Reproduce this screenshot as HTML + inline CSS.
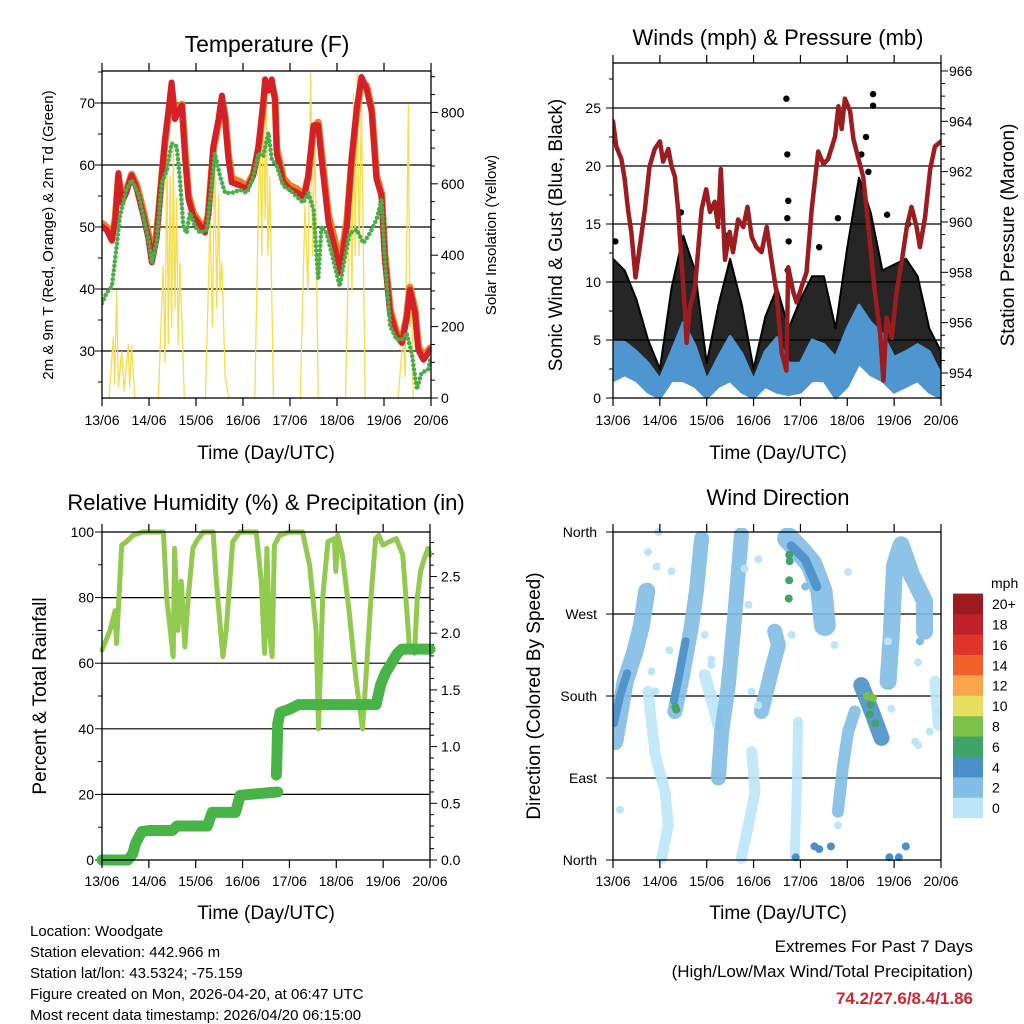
<!DOCTYPE html>
<html><head><meta charset="utf-8"><style>
html,body{margin:0;padding:0;background:#fff;}
svg{display:block;font-family:"Liberation Sans",Arial,sans-serif;}
</style></head><body>
<svg id="chart" width="1024" height="1024" viewBox="0 0 1024 1024" xmlns="http://www.w3.org/2000/svg">
<rect width="1024" height="1024" fill="#fff"/>
<text x="267" y="52" font-size="23" text-anchor="middle">Temperature (F)</text>
<text x="778" y="45" font-size="22" text-anchor="middle">Winds (mph) &amp; Pressure (mb)</text>
<text x="266" y="510" font-size="22" text-anchor="middle">Relative Humidity (%) &amp; Precipitation (in)</text>
<text x="778" y="505" font-size="22" text-anchor="middle">Wind Direction</text>
<text x="266" y="459" font-size="19" text-anchor="middle">Time (Day/UTC)</text>
<text x="778" y="459" font-size="19" text-anchor="middle">Time (Day/UTC)</text>
<text x="266" y="919" font-size="19" text-anchor="middle">Time (Day/UTC)</text>
<text x="778" y="919" font-size="19" text-anchor="middle">Time (Day/UTC)</text>
<text transform="translate(53,235) rotate(-90)" font-size="15" text-anchor="middle">2m &amp; 9m T (Red, Orange) &amp; 2m Td (Green)</text>
<text transform="translate(496,235) rotate(-90)" font-size="15" text-anchor="middle">Solar Insolation (Yellow)</text>
<text transform="translate(562,235) rotate(-90)" font-size="19" text-anchor="middle">Sonic Wind &amp; Gust (Blue, Black)</text>
<text transform="translate(1014,235) rotate(-90)" font-size="19" text-anchor="middle">Station Pressure (Maroon)</text>
<text transform="translate(46,696) rotate(-90)" font-size="19" text-anchor="middle">Percent &amp; Total Rainfall</text>
<text transform="translate(540,696) rotate(-90)" font-size="19" text-anchor="middle">Direction (Colored By Speed)</text>
<g font-size="15">
<text x="30" y="936">Location: Woodgate</text>
<text x="30" y="957">Station elevation: 442.966 m</text>
<text x="30" y="978">Station lat/lon: 43.5324; -75.159</text>
<text x="30" y="999">Figure created on Mon, 2026-04-20, at 06:47 UTC</text>
<text x="30" y="1020">Most recent data timestamp: 2026/04/20 06:15:00</text>
</g>
<g text-anchor="end">
<text x="973" y="952" font-size="17">Extremes For Past 7 Days</text>
<text x="973" y="977" font-size="17">(High/Low/Max Wind/Total Precipitation)</text>
<text x="973" y="1004" font-size="17" font-weight="bold" fill="#d02630">74.2/27.6/8.4/1.86</text>
</g>
</svg>
<script>
// ---------- Data ----------
const dayLabels=['13/06','14/06','15/06','16/06','17/06','18/06','19/06','20/06'];
const tempTicks=[30,40,50,60,70];
const solarTicks=[0,200,400,600,800];
const windTicks=[0,5,10,15,20,25];
const presTicks=[954,956,958,960,962,964,966];
const rhTicks=[0,20,40,60,80,100];
const rainTicks=['0.0','0.5','1.0','1.5','2.0','2.5'];
const dirTicks=['North','East','South','West','North'];
const speedLabels=['0','2','4','6','8','10','12','14','16','18','20+'];

const t2Days=[13.00,13.10,13.21,13.28,13.35,13.42,13.52,13.63,13.74,13.88,13.99,14.06,14.16,14.27,14.34,14.41,14.48,14.55,14.62,14.70,14.77,14.84,14.94,15.09,15.19,15.26,15.37,15.48,15.55,15.62,15.69,15.76,15.94,16.08,16.22,16.33,16.43,16.47,16.54,16.61,16.68,16.72,16.86,17.00,17.14,17.25,17.32,17.39,17.50,17.60,17.67,17.82,17.96,18.06,18.21,18.31,18.42,18.52,18.63,18.74,18.84,18.95,19.02,19.13,19.27,19.38,19.48,19.55,19.66,19.73,19.84,19.94,19.98];
const t2Vals=[50.1,49.5,47.8,51.0,58.7,53.9,55.6,58.3,56.1,51.8,48.1,44.3,48.1,58.3,64.2,68.5,73.3,67.4,68.5,69.6,61.0,54.5,51.8,50.2,49.1,51.8,63.1,67.4,71.2,67.4,61.0,57.2,56.7,56.1,58.3,63.1,70.0,73.8,72.0,73.8,70.5,61.8,57.2,56.1,55.6,55.0,55.6,58.3,66.4,66.4,61.0,50.7,46.4,42.6,50.2,61.0,69.1,74.2,72.3,68.5,57.7,55.0,44.8,36.1,32.4,31.3,35.1,39.9,36.1,30.2,28.6,29.7,30.2];
const t9Vals=[50.6,50.0,48.4,51.3,58.2,54.4,56.0,58.5,56.8,52.5,48.8,44.9,48.8,58.0,63.6,68.0,72.4,68.4,69.2,69.8,62.0,55.2,52.3,50.6,49.6,52.1,62.5,66.9,70.7,67.9,61.8,57.9,57.3,56.6,58.6,62.6,69.4,72.9,72.5,73.1,70.8,62.6,57.9,56.7,56.2,55.5,55.9,58.1,65.9,66.9,62.0,52.0,47.6,43.8,51.0,60.6,68.4,73.4,72.8,68.9,58.3,55.4,45.6,36.8,33.0,31.8,35.6,40.3,36.8,30.8,29.2,30.1,30.5];
const tdDays=[13.00,13.10,13.21,13.31,13.38,13.52,13.63,13.77,13.88,13.99,14.06,14.16,14.27,14.38,14.48,14.59,14.66,14.73,14.80,14.87,14.98,15.09,15.23,15.33,15.40,15.51,15.62,15.76,15.94,16.08,16.22,16.33,16.43,16.54,16.61,16.72,16.86,17.00,17.14,17.28,17.39,17.50,17.60,17.67,17.78,17.92,18.06,18.16,18.27,18.42,18.56,18.70,18.84,18.95,19.02,19.13,19.27,19.38,19.48,19.59,19.70,19.80,19.94,19.98];
const tdVals=[37.7,39.4,40.4,46.9,51.7,56.0,57.6,55.5,51.7,48.0,44.2,47.4,57.1,59.2,63.5,63.0,57.6,50.1,49.0,52.3,50.1,49.0,49.6,56.6,61.9,58.2,55.5,55.5,56.0,55.5,58.2,61.9,61.4,65.2,61.0,59.8,56.6,56.0,54.9,53.9,55.5,52.8,41.5,50.1,49.0,44.7,40.4,44.7,49.0,49.6,47.4,49.0,51.2,54.4,44.7,34.0,31.8,31.8,32.9,29.7,23.8,26.5,27.0,28.6];
const solarDays=[13.15,13.24,13.27,13.31,13.35,13.42,13.47,13.56,13.59,13.63,13.70,14.20,14.30,14.34,14.38,14.41,14.45,14.48,14.52,14.55,14.59,14.62,14.66,14.75,15.20,15.30,15.35,15.40,15.44,15.48,15.51,15.55,15.62,15.70,16.25,16.36,16.40,16.43,16.47,16.50,16.53,16.57,16.65,17.22,17.32,17.38,17.44,17.48,17.53,17.60,18.18,18.28,18.32,18.35,18.39,18.43,18.47,18.52,18.60,19.30,19.41,19.45,19.52,19.55,19.59,19.62];
const solarVals=[0,170,40,300,30,130,20,150,30,145,0,0,370,100,710,150,620,200,700,250,560,150,380,0,0,500,200,690,250,570,300,380,60,0,0,750,400,880,500,820,400,620,0,0,540,300,910,400,750,0,0,620,300,850,400,910,400,830,0,0,180,60,820,200,294,0];

const presDays=[13.00,13.07,13.18,13.25,13.32,13.39,13.48,13.57,13.68,13.78,13.89,14.00,14.07,14.18,14.25,14.32,14.39,14.46,14.53,14.57,14.64,14.75,14.89,14.99,15.07,15.17,15.24,15.30,15.39,15.49,15.56,15.67,15.78,15.87,15.96,16.06,16.17,16.28,16.38,16.49,16.60,16.70,16.74,16.85,16.92,17.02,17.13,17.24,17.38,17.49,17.59,17.74,17.81,17.88,17.95,18.06,18.13,18.24,18.34,18.45,18.59,18.70,18.77,18.84,18.95,19.05,19.16,19.27,19.37,19.48,19.55,19.66,19.77,19.87,20.00];
const presVals=[964.0,963.0,962.5,961.7,960.5,959.6,957.8,959.0,960.5,962.2,962.9,963.2,962.4,962.9,962.2,961.8,960.5,958.5,956.6,955.2,956.6,957.4,960.5,961.3,960.4,960.8,959.8,962.1,958.5,959.6,958.8,960.1,959.8,960.6,959.4,959.0,958.8,959.8,958.5,957.2,954.8,954.1,958.2,957.2,956.8,957.4,958.0,960.5,962.8,962.3,962.5,963.4,964.6,963.7,964.9,964.4,963.3,962.5,961.8,959.8,957.2,955.6,953.7,956.2,955.4,957.2,958.4,959.8,960.6,959.8,959.0,960.2,962.1,963.0,963.2];
const bandDays=[13.00,13.25,13.50,13.75,14.00,14.25,14.50,14.75,15.00,15.25,15.50,15.75,16.00,16.25,16.50,16.75,17.00,17.25,17.50,17.75,18.00,18.25,18.50,18.75,19.00,19.25,19.50,19.75,20.00];
const windHi=[4.8,4.8,4.0,3.0,1.6,4.0,6.5,4.5,1.5,3.5,5.3,3.8,1.5,4.0,5.2,3.0,3.0,5.0,4.6,3.5,6.0,8.0,6.5,5.5,3.5,4.0,4.6,4.0,2.0];
const windLo=[1.5,2.0,1.5,0.5,0.0,1.5,1.5,1.0,0.0,1.0,1.5,0.5,0.0,1.0,0.5,0.3,0.5,1.5,1.5,0.0,1.0,3.0,2.0,1.5,0.5,1.0,1.5,0.5,0.0];
const gustHi=[12,11,8.5,5,2.5,9.5,14,11,3,8,12,8,2.5,7,9.5,6,8.5,10.5,10.5,6,13,19,16,11,11.5,12,10.5,6,4];
const gustLo=[3,5,3,1,0.5,3,4,2,0.5,3,4,2,0.5,2,3,1,1,3,4,2,4,8,6,3,3,4,3,2,0.5];
const gustPtDays=[16.70,16.72,16.74,16.72,16.75,16.73,18.55,18.55,18.40,18.30,18.45,17.80,18.85,19.30,13.05,14.45,15.45,17.40];
const gustPtVals=[25.8,21.0,17.0,15.5,13.5,11.0,26.2,25.2,22.5,21.0,19.5,15.5,15.8,15.0,13.5,16.0,14.0,13.0];

const rhDays=[13.00,13.17,13.28,13.31,13.42,13.52,13.66,13.87,14.31,14.38,14.52,14.55,14.62,14.69,14.77,14.84,14.94,15.01,15.16,15.37,15.44,15.58,15.65,15.79,15.94,16.29,16.40,16.47,16.52,16.57,16.63,16.68,16.79,17.00,17.28,17.43,17.57,17.62,17.71,17.82,17.96,17.99,18.03,18.13,18.28,18.42,18.56,18.63,18.74,18.84,18.91,18.99,19.13,19.28,19.42,19.56,19.67,19.73,19.80,19.88,19.96,20.00];
const rhVals=[64,70,76,66,96,97,99,100,100,80,62,95,70,85,65,80,95,97,100,100,85,62,70,97,100,100,85,63,95,70,62,96,99,100,100,90,70,40,80,97,98,88,99,93,75,55,40,55,80,98,99,96,97,98,93,65,63,80,88,92,95,93];
const rainDaysA=[13.00,13.55,13.65,13.72,13.85,14.00,14.50,14.60,15.25,15.35,15.85,15.95,16.20,16.75];
const rainValsA=[0,0,0.05,0.15,0.25,0.26,0.26,0.30,0.30,0.42,0.42,0.57,0.58,0.60];
const rainDaysB=[16.72,16.73,16.75,16.80,17.00,17.20,18.85,18.95,19.05,19.30,19.40,20.00];
const rainValsB=[0.75,0.85,1.20,1.30,1.33,1.37,1.37,1.55,1.65,1.82,1.86,1.86];

const wdStreakDays=[[13.04,13.26,13.47,13.61,13.72],[13.75,13.90,14.11,14.18,14.04],[14.32,14.46,14.68,14.78,14.89],[14.96,15.10,15.25],[15.25,15.32,15.46,15.53,15.60,15.67,15.74],[15.96,16.03,15.89,15.74],[16.17,16.38,16.53,16.45],[16.95,16.92,16.88],[16.74,17.02,17.24,17.45,17.52],[17.80,17.91,18.02,18.16],[18.30,18.52,18.73],[18.87,18.94,19.01,19.15,19.37,19.65,19.65],[19.87,19.94],[13.02,13.15,13.30],[14.30,14.40,14.55],[16.80,17.10,17.35]];
const wdStreakDirs=[[130,196,229,258,295],[185,115,75,38,2],[163,196,258,295,353],[203,177,148],[90,141,192,229,269,313,357],[119,75,38,2],[163,207,236,251],[152,75,5],[353,338,324,295,258],[53,104,141,163],[192,163,134],[196,247,324,346,313,284,251],[196,148],[150,180,205],[175,200,240],[345,330,300]];
const wdStreakSpeed=[3.5,1,3,1,3,1,2.5,1,3,2,4.5,3.5,1,5,4.5,4.5];
const wdStreakWidth=[17,11,15,12,15,11,15,10,22,12,16,17,11,8,8,9];
const wdDotDays=[16.76,16.77,16.76,16.75,18.42,18.48,18.55,18.60,18.50,14.33,14.35,16.90,17.30,17.40,17.65,18.90,19.10,19.25,17.10,13.15,14.20,15.10,16.10,19.45,19.55,13.97,13.75,13.93,14.25,13.82,13.90,14.96,15.10,15.81,15.89,15.96,16.10,16.81,16.95,17.80,18.02,17.73,19.51,19.94,19.76,19.51,18.87,18.94];
const wdDotDirs=[335,328,307,287,180,160,178,150,170,168,165,3,15,12,15,3,3,15,300,55,230,220,330,130,240,360,338,322,317,207,185,247,214,320,280,185,170,247,148,38,316,236,217,163,141,126,240,166];
const wdDotSpeed=[7,7,7,7,8,7,9,7,7,7,7,4,4,4,4,4,4,4,2,1,1,1,1,1,2,1,1,1,1,1,1,1,1,1,1,1,1,1,1,1,1,1,1,1,1,1,1,1];

// ---------- helpers ----------
const NS='http://www.w3.org/2000/svg';
const svg=document.getElementById('chart');
function mk(tag,attrs,parent){const e=document.createElementNS(NS,tag);for(const k in attrs)e.setAttribute(k,attrs[k]);(parent||svg).appendChild(e);return e;}
function pts(xs,ys,fx,fy){return xs.map((d,i)=>fx(d).toFixed(1)+','+fy(ys[i]).toFixed(1)).join(' ');}
function band(xs,hi,lo,fx,fy){const a=xs.map((d,i)=>fx(d).toFixed(1)+','+fy(hi[i]).toFixed(1));const b=xs.map((d,i)=>fx(d).toFixed(1)+','+fy(lo[i]).toFixed(1)).reverse();return a.concat(b).join(' ');}
const speedColors=['#bde5f9','#82bde6','#4a90c8','#3fa36a','#7cc24a','#e8df60','#f9a64a','#f0622a','#e0342a','#c0202a','#9b1b1e'];
function spColor(s){return speedColors[Math.max(0,Math.min(10,Math.floor(s/2)))];}

const x1=d=>102+(d-13)*(329/7);
const yT=v=>398-(v-22.42)*6.2;
const yS=v=>398-v*0.357;
const x2=d=>613+(d-13)*(328/7);
const yW=v=>398-v*11.6;
const yP=v=>373-(v-954)*25.17;
const x3=d=>102+(d-13)*(328/7);
const yR=v=>860-v*3.28;
const yPr=v=>860-v*113.4;
const x4=x2;
const yD=v=>860-v*(328/360);

function frame(name){
  const g=mk('g',{});
  
  
  return g;
}
function xTicks(g,fx,T,B,labY){
  dayLabels.forEach((lab,i)=>{
    const x=fx(13+i);
    mk('line',{x1:x,y1:T-8,x2:x,y2:T,stroke:'#000','stroke-width':1.2},g);
    mk('line',{x1:x,y1:B,x2:x,y2:B+8,stroke:'#000','stroke-width':1.2},g);
    const t=mk('text',{x:x,y:labY,'font-size':14,'text-anchor':'middle'},g);
    t.textContent=lab;
    
    
  });
}
function border(g,L,T,R,B){mk('rect',{x:L,y:T,width:R-L,height:B-T,fill:'none',stroke:'#000','stroke-width':1.3},g);}

// ---------- Panel 1 ----------
(function(){
  const L=102,T=71,R=431,B=398;
  const g=frame('temperature-panel');
  tempTicks.forEach(v=>{mk('line',{x1:L,y1:yT(v),x2:R,y2:yT(v),stroke:'#000','stroke-width':1.2},g);
    const t=mk('text',{x:95,y:yT(v)+5,'font-size':14,'text-anchor':'end'},g);t.textContent=v;
    
    });
  for(let v=25;v<=75;v+=5){const y=yT(v);if(y<T||y>B)continue;mk('line',{x1:L-(v%10===0?7:4),y1:y,x2:L,y2:y,stroke:'#000'},g);}
  for(let v=0;v<=900;v+=50){const y=yS(v);if(y<T)continue;mk('line',{x1:R,y1:y,x2:R+(v%200===0?7:4),y2:y,stroke:'#000'},g);}
  solarTicks.forEach(v=>{const t=mk('text',{x:441,y:yS(v)+5,'font-size':14},g);t.textContent=v;
    
    });
  const cp=mk('clipPath',{id:'c1'},g);mk('rect',{x:L,y:T,width:R-L,height:B-T},cp);
  const d=mk('g',{'clip-path':'url(#c1)'},g);
  const s=mk('polyline',{points:pts(solarDays,solarVals,x1,yS),fill:'none',stroke:'#f7dc4c','stroke-width':1.3,'stroke-linejoin':'round'},d);
  
  
  const o=mk('polyline',{points:pts(t2Days,t9Vals,x1,yT),fill:'none',stroke:'#f07f24','stroke-width':7,'stroke-linejoin':'round','stroke-linecap':'round'},d);
  
  
  const r=mk('polyline',{points:pts(t2Days,t2Vals,x1,yT),fill:'none',stroke:'#d42027','stroke-width':6,'stroke-linejoin':'round','stroke-linecap':'round'},d);
  
  
  const gr=mk('polyline',{points:pts(tdDays,tdVals,x1,yT),fill:'none',stroke:'#4aae48','stroke-width':4.5,'stroke-dasharray':'0 4.5','stroke-linecap':'round','stroke-linejoin':'round'},d);
  
  
  xTicks(g,x1,T,B,425);
  border(g,L,T,R,B);
})();

// ---------- Panel 2 ----------
(function(){
  const L=613,T=63,R=941,B=398;
  const g=frame('winds-panel');
  windTicks.forEach(v=>{if(v>0)mk('line',{x1:L,y1:yW(v),x2:R,y2:yW(v),stroke:'#000','stroke-width':1.2},g);
    const t=mk('text',{x:601,y:yW(v)+5,'font-size':14,'text-anchor':'end'},g);t.textContent=v;
    
    });
  for(let v=0;v<=27.5;v+=2.5){mk('line',{x1:L-(v%5===0?7:4),y1:yW(v),x2:L,y2:yW(v),stroke:'#000'},g);}
  for(let v=953.5;v<=967;v+=0.5){const y=yP(v);if(y<T||y>B)continue;mk('line',{x1:R,y1:y,x2:R+(v%2===0?7:4),y2:y,stroke:'#000'},g);}
  presTicks.forEach(v=>{const t=mk('text',{x:949,y:yP(v)+5,'font-size':14},g);t.textContent=v;
    
    });
  const cp=mk('clipPath',{id:'c2'},g);mk('rect',{x:L,y:T,width:R-L,height:B-T+3},cp);
  const d=mk('g',{'clip-path':'url(#c2)'},g);
  const gb=mk('polygon',{points:band(bandDays,gustHi,gustLo,x2,yW),fill:'#000','fill-opacity':0.85,stroke:'#000','stroke-width':2,'stroke-linejoin':'round'},d);
  
  
  gustPtDays.forEach((dd,i)=>{const c=mk('circle',{cx:x2(dd),cy:yW(gustPtVals[i]),r:3.2,fill:'#000'},d);
    
    });
  const wb=mk('polygon',{points:band(bandDays,windHi,windLo,x2,yW),fill:'#4f95cf',stroke:'#4f95cf','stroke-width':3,'stroke-linejoin':'round'},d);
  
  
  const p=mk('polyline',{points:pts(presDays,presVals,x2,yP),fill:'none',stroke:'#9c1c1f','stroke-width':4.5,'stroke-linejoin':'round','stroke-linecap':'round'},d);
  
  
  xTicks(g,x2,T,B,425);
  border(g,L,T,R,B);
})();

// ---------- Panel 3 ----------
(function(){
  const L=102,T=532,R=430,B=860;
  const g=frame('humidity-panel');
  rhTicks.forEach(v=>{if(v>0&&v<100)mk('line',{x1:L,y1:yR(v),x2:R,y2:yR(v),stroke:'#000','stroke-width':1.2},g);
    const t=mk('text',{x:94,y:yR(v)+5,'font-size':14,'text-anchor':'end'},g);t.textContent=v;
    
    });
  for(let v=0;v<=100;v+=10){mk('line',{x1:L-(v%20===0?7:4),y1:yR(v),x2:L,y2:yR(v),stroke:'#000'},g);}
  for(let k=0;k<=28;k++){const v=k/10;mk('line',{x1:R,y1:yPr(v),x2:R+(k%5===0?7:4),y2:yPr(v),stroke:'#000'},g);}
  rainTicks.forEach(v=>{const t=mk('text',{x:441,y:yPr(parseFloat(v))+5,'font-size':14},g);t.textContent=v;
    
    });
  const rh=mk('polyline',{points:pts(rhDays,rhVals,x3,yR),fill:'none',stroke:'#92c94f','stroke-width':5,'stroke-linejoin':'round','stroke-linecap':'round'},g);
  
  
  const ra=mk('polyline',{points:pts(rainDaysA,rainValsA,x3,yPr),fill:'none',stroke:'#48b347','stroke-width':11,'stroke-linejoin':'round','stroke-linecap':'round'},g);
  
  
  const rb=mk('polyline',{points:pts(rainDaysB,rainValsB,x3,yPr),fill:'none',stroke:'#48b347','stroke-width':11,'stroke-linejoin':'round','stroke-linecap':'round'},g);
  
  
  xTicks(g,x3,T,B,886);
  border(g,L,T,R,B);
})();

// ---------- Panel 4 ----------
(function(){
  const L=613,T=532,R=941,B=860;
  const g=frame('wind-direction-panel');
  [90,180,270].forEach(v=>mk('line',{x1:L,y1:yD(v),x2:R,y2:yD(v),stroke:'#000','stroke-width':1.2},g));
  dirTicks.forEach((lab,i)=>{const y=yD(i*90);mk('line',{x1:L-7,y1:y,x2:L,y2:y,stroke:'#000'},g);
    const t=mk('text',{x:597,y:y+5,'font-size':14,'text-anchor':'end'},g);t.textContent=lab;
    
    });
  const cp=mk('clipPath',{id:'c4'},g);mk('rect',{x:L,y:T-4,width:R-L,height:B-T+8},cp);
  const d=mk('g',{'clip-path':'url(#c4)'},g);
  wdStreakDays.forEach((ds,i)=>{
    const pl=mk('polyline',{points:pts(ds,wdStreakDirs[i],x4,yD),fill:'none',stroke:spColor(wdStreakSpeed[i]),'stroke-width':wdStreakWidth[i],'stroke-linecap':'round','stroke-linejoin':'round','stroke-opacity':0.9},d);
    
    
  });
  wdDotDays.forEach((dd,i)=>{
    const c=mk('circle',{cx:x4(dd),cy:yD(wdDotDirs[i]),r:4,fill:spColor(wdDotSpeed[i])},d);
    
    
  });
  xTicks(g,x4,T,B,886);
  border(g,L,T,R,B);
  const cb=mk('g',{},svg);
  
  
  const u=mk('text',{x:991,y:588,'font-size':14},cb);u.textContent='mph';
  speedLabels.forEach((lab,i)=>{
    const y=818-(i+1)*20.4;
    const r=mk('rect',{x:953,y:y,width:30,height:20.6,fill:speedColors[i]},cb);
    
    
    const t=mk('text',{x:992,y:y+15.5,'font-size':14},cb);t.textContent=lab;
    
    
  });
})();
</script>
</body></html>
